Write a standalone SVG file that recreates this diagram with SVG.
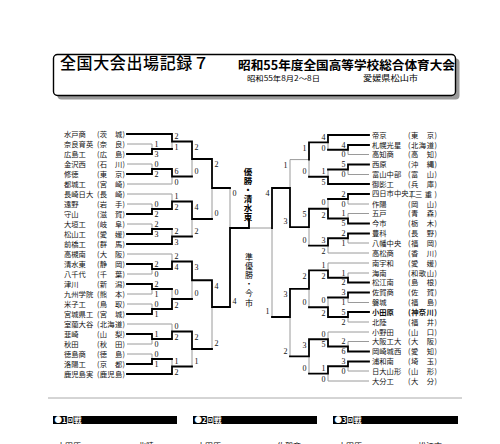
<svg xmlns="http://www.w3.org/2000/svg" width="500" height="444" viewBox="0 0 500 444">
<style>
.n{font-family:"Noto Sans CJK JP","Noto Sans",sans-serif;font-size:7.3px;fill:#111}
.p{font-family:"Noto Sans CJK JP","Noto Sans",sans-serif;font-size:7.3px;fill:#111}
.bd{font-weight:bold}
.s{font-family:"Liberation Serif",serif;font-size:8px;fill:#111}
.r{text-anchor:end}
.t{stroke:#000;stroke-width:1.8;fill:none;stroke-linecap:square;stroke-linejoin:miter}
.g{stroke:#9a9a9a;stroke-width:1;fill:none}
.hd{font-family:"Noto Sans CJK JP",sans-serif;fill:#000}
.vt{writing-mode:vertical-rl}
.bar{fill:#000}
.bt{font-family:"Noto Sans CJK JP",sans-serif;font-size:7.5px;font-weight:bold;fill:#fff}
</style>
<rect width="500" height="444" fill="#fff"/>
<g id="header">
<rect x="57.5" y="58.5" width="402" height="41" rx="4" fill="#9a9a9a"/>
<rect x="53.5" y="54.5" width="402" height="41" rx="4" fill="#fff" stroke="#000" stroke-width="1.4"/>
<text class="hd" x="60" y="68.8" font-size="16" font-weight="500" textLength="149" lengthAdjust="spacing">全国大会出場記録７</text>
<text class="hd" x="238" y="69.5" font-size="12.5" font-weight="bold" textLength="217" lengthAdjust="spacingAndGlyphs">昭和55年度全国高等学校総合体育大会</text>
<text class="hd" x="247" y="81.3" font-size="7" textLength="73" lengthAdjust="spacingAndGlyphs">昭和55年8月2～8日</text>
<text class="hd" x="363" y="81.3" font-size="7.5" textLength="55" lengthAdjust="spacingAndGlyphs">愛媛県松山市</text>
</g>
<g id="connectors">
<path class="g" d="M127 144H152M127 164H152M127 184H172M127 194H172M127 204H152M127 224H152M127 254H172M127 274H152M127 294H152M127 304H152M127 324H172M127 344H152M127 354H152
M152 144V149M152 164V169M152 204V209M152 224V229M152 269V274M152 289V294M152 304V309M152 339V344M152 354V359
M172 141.5V149M172 176.5V184M172 194V201.5M172 229V236.5M172 254V261.5M172 289V299M172 324V331.5M172 359V366.5
M192 159V176.5M192 219V236.5M192 280.25V299M192 349V366.5
M212 188V219M212 307V349M230 188V228"/>
<path class="g" d="M369 154.5H348M369 174.5H348M369 204H348M369 213.5H348M369 243H348M369 253H328M369 263H328M369 273H348M369 302.5H348M369 322H348M369 332H328M369 341.5H348M369 371H348M369 381H328
M348 149.75V154.5M348 169.5V174.5M348 199V204M348 213.5V218.5M348 238.25V243M348 273V277.75M348 297.5V302.5M348 317V322M348 341.5V346.5M348 366.25V371
M328 142.4V149.75M328 169.5V176.75M328 199V208.75M328 245.6V253M328 263V270.4M328 297.5V307.25M328 332V339.25M328 373.6V381
M309 159.6V176.75M309 159.6H290M309 227.2V245.6M309 288.8V307.25M309 356.4V373.6
M290 159.6V188M290 317V356.4M272 228V317M272 228H249"/>
<path class="t" d="M127 134H172M127 154H152M127 174H152M127 214H152M127 234H152M127 244H172M127 264H152M127 284H152M127 314H152M127 334H152M127 364H152M127 374H172
M152 154V149H172M152 174V169H172M152 214V209H172M152 234V229H172M152 264V269H172M152 284V289H172M152 314V309H172M152 334V339H172M152 364V359H172
M172 134V141.5H192M172 169V176.5H192M172 209V201.5H192M172 244V236.5H192M172 269V261.5H192M172 309V299H192M172 339V331.5H192M172 374V366.5H192
M192 141.5V159H212M192 201.5V219H212M192 261.5V280.25H212M192 331.5V349H212
M212 159V188H230M212 280.25V307H230
M230 307V228H249V219"/>
<path class="t" d="M369 135H328M369 145H348M369 164.5H348M369 184H328M369 194H348M369 223.5H348M369 233.5H348M369 282.5H348M369 292.5H348M369 312H348M369 351.5H348M369 361.5H348
M348 145V149.75H328M348 164.5V169.5H328M348 194V199H328M348 223.5V218.5H328M348 233.5V238.25H328M348 282.5V277.75H328M348 292.5V297.5H328M348 312V317H328M348 351.5V346.5H328M348 361.5V366.25H328
M328 135V142.4H309M328 184V176.75H309M328 218.5V208.75H309M328 238.25V245.6H309M328 277.75V270.4H309M328 317V307.25H309M328 346.5V339.25H309M328 366.25V373.6H309
M309 142.4V159.6M309 208.75V227.2H290M309 270.4V288.8H290M309 339.25V356.4H290
M290 227.2V188H272M290 288.8V317H272
M272 188V228"/>
</g>
<g id="scores">
<g class="s">
<text x="154.5" y="146.7">1</text><text x="154.5" y="156.7">3</text>
<text x="154.5" y="166.7">0</text><text x="154.5" y="176.7">2</text>
<text x="154.5" y="206.7">0</text><text x="154.5" y="216.7">2</text>
<text x="154.5" y="226.7">2</text><text x="154.5" y="236.7">3</text>
<text x="154.5" y="266.7">2</text><text x="154.5" y="276.7">0</text>
<text x="154.5" y="286.7">2</text><text x="154.5" y="296.7">1</text>
<text x="154.5" y="306.7">0</text><text x="154.5" y="316.7">1</text>
<text x="154.5" y="336.7">1</text><text x="154.5" y="346.7">0</text>
<text x="154.5" y="356.7">0</text><text x="154.5" y="366.7">1</text>
<text x="174.5" y="138.7">2</text><text x="174.5" y="149.7">1</text>
<text x="174.5" y="173.7">6</text><text x="174.5" y="184.7">0</text>
<text x="174.5" y="198.7">1</text><text x="174.5" y="209.7">2</text>
<text x="174.5" y="233.7">2</text><text x="174.5" y="244.7">3</text>
<text x="174.5" y="258.7">2</text><text x="174.5" y="269.7">4</text>
<text x="174.5" y="294.7">0</text><text x="174.5" y="308.2">2</text>
<text x="174.5" y="328.7">0</text><text x="174.5" y="339.7">2</text>
<text x="174.5" y="363.7">1</text><text x="174.5" y="374.7">2</text>
<text x="194.5" y="149.7">2</text><text x="194.5" y="173.7">0</text>
<text x="194.5" y="209.7">4</text><text x="194.5" y="233.7">2</text>
<text x="194.5" y="269.7">3</text><text x="194.5" y="296.2">0</text>
<text x="194.5" y="339.7">2</text><text x="194.5" y="363.7">1</text>
<text x="214.5" y="167.2">2</text><text x="214.5" y="216.2">0</text>
<text x="214.5" y="288.5">4</text><text x="214.5" y="346.2">2</text>
<text x="232.5" y="196.2">0</text><text x="232.5" y="304.2">4</text>
</g>
<g class="s r">
<text x="345.5" y="147.7">4</text><text x="345.5" y="157.2">0</text>
<text x="345.5" y="167.2">5</text><text x="345.5" y="177.2">0</text>
<text x="345.5" y="196.7">2</text><text x="345.5" y="206.7">0</text>
<text x="345.5" y="216.2">1</text><text x="345.5" y="226.2">5</text>
<text x="345.5" y="236.2">2</text><text x="345.5" y="245.7">1</text>
<text x="345.5" y="275.7">1</text><text x="345.5" y="285.2">2</text>
<text x="345.5" y="295.2">3</text><text x="345.5" y="305.2">1</text>
<text x="345.5" y="314.7">5</text><text x="345.5" y="324.7">2</text>
<text x="345.5" y="344.2">2</text><text x="345.5" y="354.2">6</text>
<text x="345.5" y="364.2">3</text><text x="345.5" y="373.7">0</text>
<text x="325.5" y="139.7">4</text><text x="325.5" y="150.5">0</text>
<text x="325.5" y="174.2">1</text><text x="325.5" y="184.7">5</text>
<text x="325.5" y="204.7">0</text><text x="325.5" y="217.7">2</text>
<text x="325.5" y="243">3</text><text x="325.5" y="253.7">2</text>
<text x="325.5" y="267.7">1</text><text x="325.5" y="278.5">2</text>
<text x="325.5" y="303.2">0</text><text x="325.5" y="316.2">2</text>
<text x="325.5" y="336.7">0</text><text x="325.5" y="347.2">5</text>
<text x="325.5" y="371">1</text><text x="325.5" y="381.7">0</text>
<text x="306.5" y="150.6">1</text><text x="306.5" y="174">0</text>
<text x="306.5" y="217">5</text><text x="306.5" y="242.8">0</text>
<text x="306.5" y="278.6">2</text><text x="306.5" y="304.5">0</text>
<text x="306.5" y="347.5">3</text><text x="306.5" y="370.8">0</text>
<text x="287.5" y="167.8">1</text><text x="287.5" y="224.4">3</text>
<text x="287.5" y="297">3</text><text x="287.5" y="353.6">2</text>
<text x="269.5" y="196.2">4</text><text x="269.5" y="314.2">1</text>
</g>
</g>
<g id="result">
<text class="hd vt" x="248" y="167.5" font-size="8.5" font-weight="bold" letter-spacing="0.5">優勝・清水東</text>
<text class="hd vt" x="249" y="252.5" font-size="8" letter-spacing="1.2" fill="#333">準優勝・今市</text>
</g>
<g id="L01"><text class="n" x="64" y="136.7">水戸商</text><text class="p" x="97" y="136.7" textLength="28">(茨　城)</text></g>
<g id="L02"><text class="n" x="64" y="146.7">奈良育英</text><text class="p" x="97" y="146.7" textLength="28">(奈　良)</text></g>
<g id="L03"><text class="n" x="64" y="156.7">広島工</text><text class="p" x="97" y="156.7" textLength="28">(広　島)</text></g>
<g id="L04"><text class="n" x="64" y="166.7">金沢西</text><text class="p" x="97" y="166.7" textLength="28">(石　川)</text></g>
<g id="L05"><text class="n" x="64" y="176.7">修徳</text><text class="p" x="97" y="176.7" textLength="28">(東　京)</text></g>
<g id="L06"><text class="n" x="64" y="186.7">都城工</text><text class="p" x="97" y="186.7" textLength="28">(宮　崎)</text></g>
<g id="L07"><text class="n" x="64" y="196.7">長崎日大</text><text class="p" x="97" y="196.7" textLength="28">(長　崎)</text></g>
<g id="L08"><text class="n" x="64" y="206.7">遠野</text><text class="p" x="97" y="206.7" textLength="28">(岩　手)</text></g>
<g id="L09"><text class="n" x="64" y="216.7">守山</text><text class="p" x="97" y="216.7" textLength="28">(滋　賀)</text></g>
<g id="L10"><text class="n" x="64" y="226.7">大垣工</text><text class="p" x="97" y="226.7" textLength="28">(岐　阜)</text></g>
<g id="L11"><text class="n" x="64" y="236.7">松山工</text><text class="p" x="97" y="236.7" textLength="28">(愛　媛)</text></g>
<g id="L12"><text class="n" x="64" y="246.7">前橋工</text><text class="p" x="97" y="246.7" textLength="28">(群　馬)</text></g>
<g id="L13"><text class="n" x="64" y="256.7">高槻南</text><text class="p" x="97" y="256.7" textLength="28">(大　阪)</text></g>
<g id="L14"><text class="n" x="64" y="266.7">清水東</text><text class="p" x="97" y="266.7" textLength="28">(静　岡)</text></g>
<g id="L15"><text class="n" x="64" y="276.7">八千代</text><text class="p" x="97" y="276.7" textLength="28">(千　葉)</text></g>
<g id="L16"><text class="n" x="64" y="286.7">津川</text><text class="p" x="97" y="286.7" textLength="28">(新　潟)</text></g>
<g id="L17"><text class="n" x="64" y="296.7">九州学院</text><text class="p" x="97" y="296.7" textLength="28">(熊　本)</text></g>
<g id="L18"><text class="n" x="64" y="306.7">米子工</text><text class="p" x="97" y="306.7" textLength="28">(鳥　取)</text></g>
<g id="L19"><text class="n" x="64" y="316.7">宮城県工</text><text class="p" x="97" y="316.7" textLength="28">(宮　城)</text></g>
<g id="L20"><text class="n" x="64" y="326.7">室蘭大谷</text><text class="p" x="97" y="326.7" textLength="28">(北海道)</text></g>
<g id="L21"><text class="n" x="64" y="336.7">韮崎</text><text class="p" x="97" y="336.7" textLength="28">(山　梨)</text></g>
<g id="L22"><text class="n" x="64" y="346.7">秋田</text><text class="p" x="97" y="346.7" textLength="28">(秋　田)</text></g>
<g id="L23"><text class="n" x="64" y="356.7">徳島商</text><text class="p" x="97" y="356.7" textLength="28">(徳　島)</text></g>
<g id="L24"><text class="n" x="64" y="366.7">洛陽工</text><text class="p" x="97" y="366.7" textLength="28">(京　都)</text></g>
<g id="L25"><text class="n" x="64" y="376.7">鹿児島実</text><text class="p" x="97" y="376.7" textLength="28">(鹿児島)</text></g>
<g id="R01"><text class="n" x="372" y="137.7">帝京</text><text class="p" x="408" y="137.7" textLength="29">(東　京)</text></g>
<g id="R02"><text class="n" x="372" y="147.7">札幌光星</text><text class="p" x="408" y="147.7" textLength="29">(北海道)</text></g>
<g id="R03"><text class="n" x="372" y="157.2">高知商</text><text class="p" x="408" y="157.2" textLength="29">(高　知)</text></g>
<g id="R04"><text class="n" x="372" y="167.2">西原</text><text class="p" x="408" y="167.2" textLength="29">(沖　縄)</text></g>
<g id="R05"><text class="n" x="372" y="177.2">富山中部</text><text class="p" x="408" y="177.2" textLength="29">(富　山)</text></g>
<g id="R06"><text class="n" x="372" y="186.7">御影工</text><text class="p" x="408" y="186.7" textLength="29">(兵　庫)</text></g>
<g id="R07"><text class="n" x="372" y="196.4" font-size="5.8">四日市中央工</text><text class="p" x="410" y="196.9" textLength="27">(三重)</text></g>
<g id="R08"><text class="n" x="372" y="206.7">作陽</text><text class="p" x="408" y="206.7" textLength="29">(岡　山)</text></g>
<g id="R09"><text class="n" x="372" y="216.2">五戸</text><text class="p" x="408" y="216.2" textLength="29">(青　森)</text></g>
<g id="R10"><text class="n" x="372" y="226.2">今市</text><text class="p" x="408" y="226.2" textLength="29">(栃　木)</text></g>
<g id="R11"><text class="n" x="372" y="236.2">豊科</text><text class="p" x="408" y="236.2" textLength="29">(長　野)</text></g>
<g id="R12"><text class="n" x="372" y="245.7">八幡中央</text><text class="p" x="408" y="245.7" textLength="29">(福　岡)</text></g>
<g id="R13"><text class="n" x="372" y="255.7">高松商</text><text class="p" x="408" y="255.7" textLength="29">(香　川)</text></g>
<g id="R14"><text class="n" x="372" y="265.7">南宇和</text><text class="p" x="408" y="265.7" textLength="29">(愛　媛)</text></g>
<g id="R15"><text class="n" x="372" y="275.7">海南</text><text class="p" x="408" y="275.7" textLength="29">(和歌山)</text></g>
<g id="R16"><text class="n" x="372" y="285.2">松江南</text><text class="p" x="408" y="285.2" textLength="29">(島　根)</text></g>
<g id="R17"><text class="n" x="372" y="295.2">佐賀商</text><text class="p" x="408" y="295.2" textLength="29">(佐　賀)</text></g>
<g id="R18"><text class="n" x="372" y="305.2">磐城</text><text class="p" x="408" y="305.2" textLength="29">(福　島)</text></g>
<g id="R19"><text class="n bd" x="372" y="314.7">小田原</text><text class="p bd" x="408" y="314.7" textLength="29">(神奈川)</text></g>
<g id="R20"><text class="n" x="372" y="324.7">北陸</text><text class="p" x="408" y="324.7" textLength="29">(福　井)</text></g>
<g id="R21"><text class="n" x="372" y="334.7">小野田</text><text class="p" x="408" y="334.7" textLength="29">(山　口)</text></g>
<g id="R22"><text class="n" x="372" y="344.2">大阪工大</text><text class="p" x="408" y="344.2" textLength="29">(大　阪)</text></g>
<g id="R23"><text class="n" x="372" y="354.2">岡崎城西</text><text class="p" x="408" y="354.2" textLength="29">(愛　知)</text></g>
<g id="R24"><text class="n" x="372" y="364.2">浦和南</text><text class="p" x="408" y="364.2" textLength="29">(埼　玉)</text></g>
<g id="R25"><text class="n" x="372" y="373.7">日大山形</text><text class="p" x="408" y="373.7" textLength="29">(山　形)</text></g>
<g id="R26"><text class="n" x="372" y="383.7">大分工</text><text class="p" x="408" y="383.7" textLength="29">(大　分)</text></g>
<g id="footer">
<line x1="48" y1="398" x2="462" y2="398" stroke="#aaa" stroke-width="1"/>
<rect class="bar" x="53" y="416" width="124" height="8"/>
<rect class="bar" x="193" y="416" width="124" height="8"/>
<rect class="bar" x="333" y="416" width="125" height="8"/>
<text class="bt" x="54.5" y="422.8">●1回戦</text>
<text class="bt" x="194.5" y="422.8">●2回戦</text>
<text class="bt" x="334.5" y="422.8">●3回戦</text>
<g class="hd" font-size="8">
<text x="57" y="448.5">小田原</text><text x="138" y="448.5">北陸</text>
<text x="197" y="448.5">小田原</text><text x="277" y="448.5">佐賀商</text>
<text x="338" y="448.5">小田原</text><text x="418" y="448.5">松江南</text>
</g>
</g>
</svg>
